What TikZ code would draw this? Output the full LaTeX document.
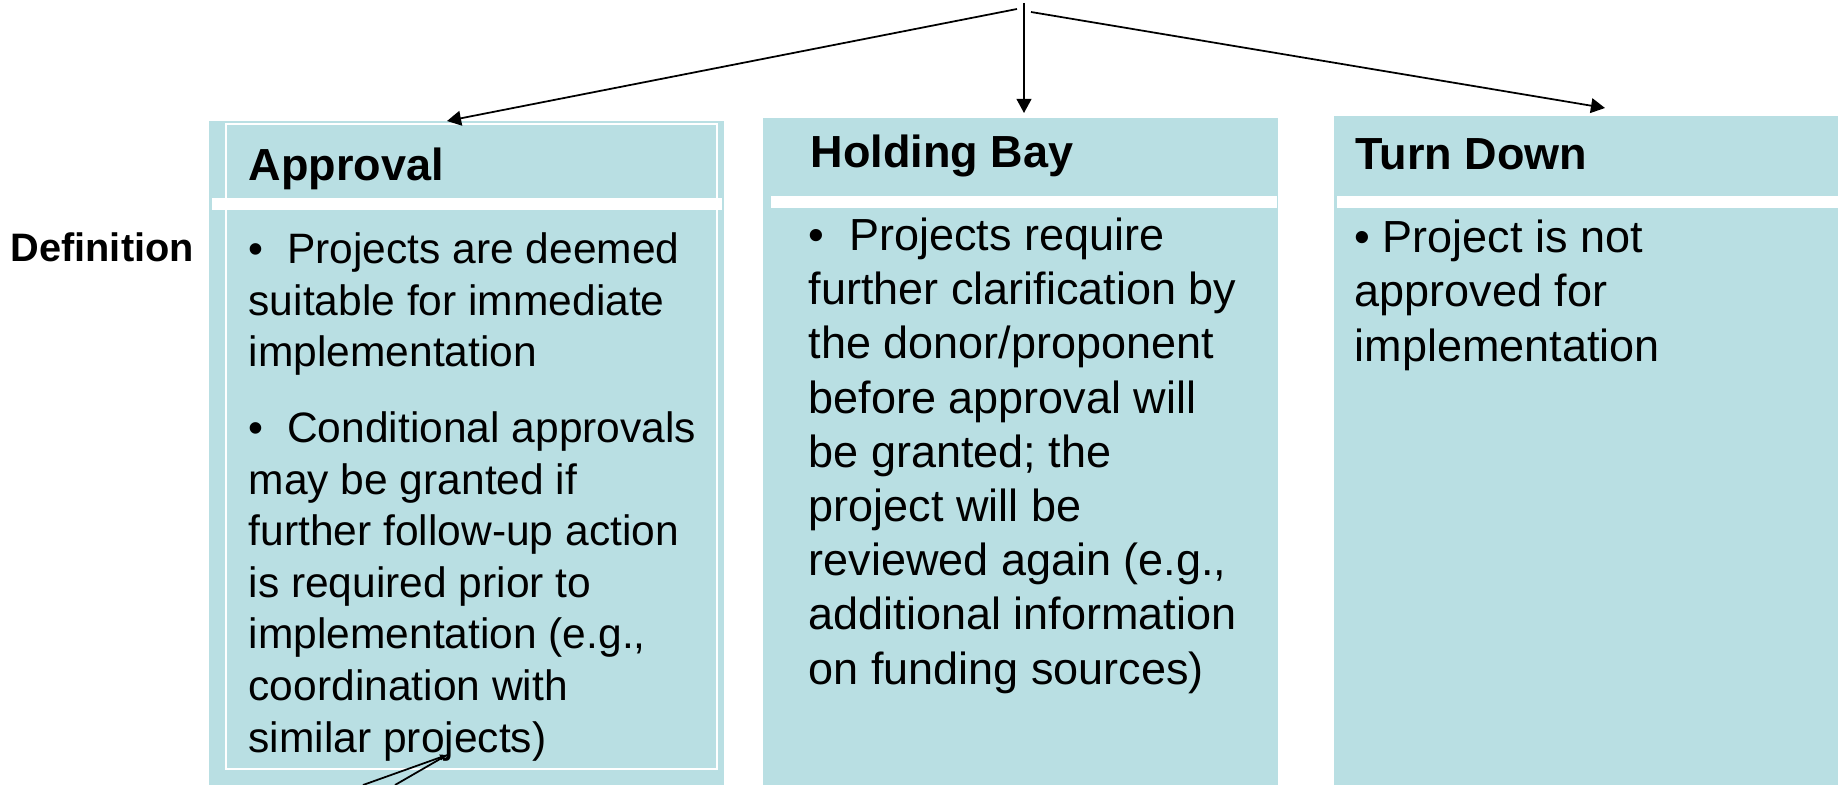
\documentclass[tikz,border=0pt]{standalone}
\usepackage{fontspec}
\setmainfont{Liberation Sans}
\usetikzlibrary{arrows.meta}
\definecolor{boxfill}{HTML}{B9DFE3}

\tikzset{
	panel/.style={fill=boxfill, draw=none, inner sep=0pt, anchor=north west},
	heading/.style={font=\fontsize{12.8}{15.4}\selectfont\bfseries, anchor=base west, inner sep=0pt},
	bodytext/.style={align=left, anchor=base west, inner sep=0pt},
	pointer/.style={-{Triangle[length=4pt,width=4.2pt]}, line width=0.5pt}
}

\begin{document}
\begin{tikzpicture}
	\useasboundingbox (0,0) rectangle (18.38,-7.85);
	% the three panels
	\node [panel, minimum width=5.15cm, minimum height=6.65cm] (approval) at (2.08,-1.20) {};
	\node [panel, minimum width=5.15cm, minimum height=6.68cm] (holding) at (7.62,-1.17) {};
	\node [panel, minimum width=5.05cm, minimum height=6.70cm] (turndown) at (13.33,-1.15) {};
	\draw [white, line width=0.5pt] (2.26,-1.24) rectangle (7.17,-7.69);
	\fill [white] (2.12,-1.98) rectangle (7.22,-2.10);
	\fill [white] (7.71,-1.96) rectangle (12.77,-2.08);
	\fill [white] (13.37,-1.96) rectangle (18.38,-2.08);
	% headings
	\node [heading] (tapproval) at (2.48,-1.80) {Approval};
	\node [heading] (tholding) at (8.10,-1.67) {Holding Bay};
	\node [heading] (tturndown) at (13.55,-1.70) {Turn Down};
	\node [heading, font=\fontsize{11.3}{13.5}\selectfont\bfseries] (definition) at (0.10,-2.62) {Definition};
	% texts (placed by the baseline of their last line)
	\node [bodytext, font=\fontsize{12.1}{14.68}\selectfont] (bapproval) at (2.48,-7.52)
		{•\ \ Projects are deemed\\suitable for immediate\\implementation\\[6.9pt]
		•\ \ Conditional approvals\\may be granted if\\further follow-up action\\is required prior to\\implementation (e.g.,\\coordination with\\similar projects)};
	\node [bodytext, font=\fontsize{12.8}{15.42}\selectfont] (bholding) at (8.08,-6.84)
		{•\ \ Projects require\\further clarification by\\the donor/proponent\\before approval will\\be granted; the\\project will be\\reviewed again (e.g.,\\additional information\\on funding sources)};
	\node [bodytext, font=\fontsize{12.8}{15.42}\selectfont] (bturndown) at (13.54,-3.61)
		{• Project is not\\approved for\\implementation};
	% arrows
	\coordinate (srcA) at (10.17,-0.09);
	\coordinate (srcB) at (10.24,-0.03);
	\coordinate (srcC) at (10.31,-0.12);
	\coordinate (tipA) at (4.47,-1.21);
	\coordinate (tipB) at (10.24,-1.13);
	\coordinate (tipC) at (16.05,-1.08);
	\draw [pointer] (srcA) -- (tipA);
	\draw [pointer] (srcB) -- (tipB);
	\draw [pointer] (srcC) -- (tipC);
	\coordinate (lowA) at (3.63,-7.85);
	\coordinate (lowB) at (3.95,-7.85);
	\coordinate (tipD) at (4.47,-7.55);
	\draw [-{Triangle[length=2pt,width=1.6pt]}, line width=0.5pt] (lowA) -- (tipD);
	\draw [line width=0.5pt] (lowB) -- (tipD);
\end{tikzpicture}
\end{document}
